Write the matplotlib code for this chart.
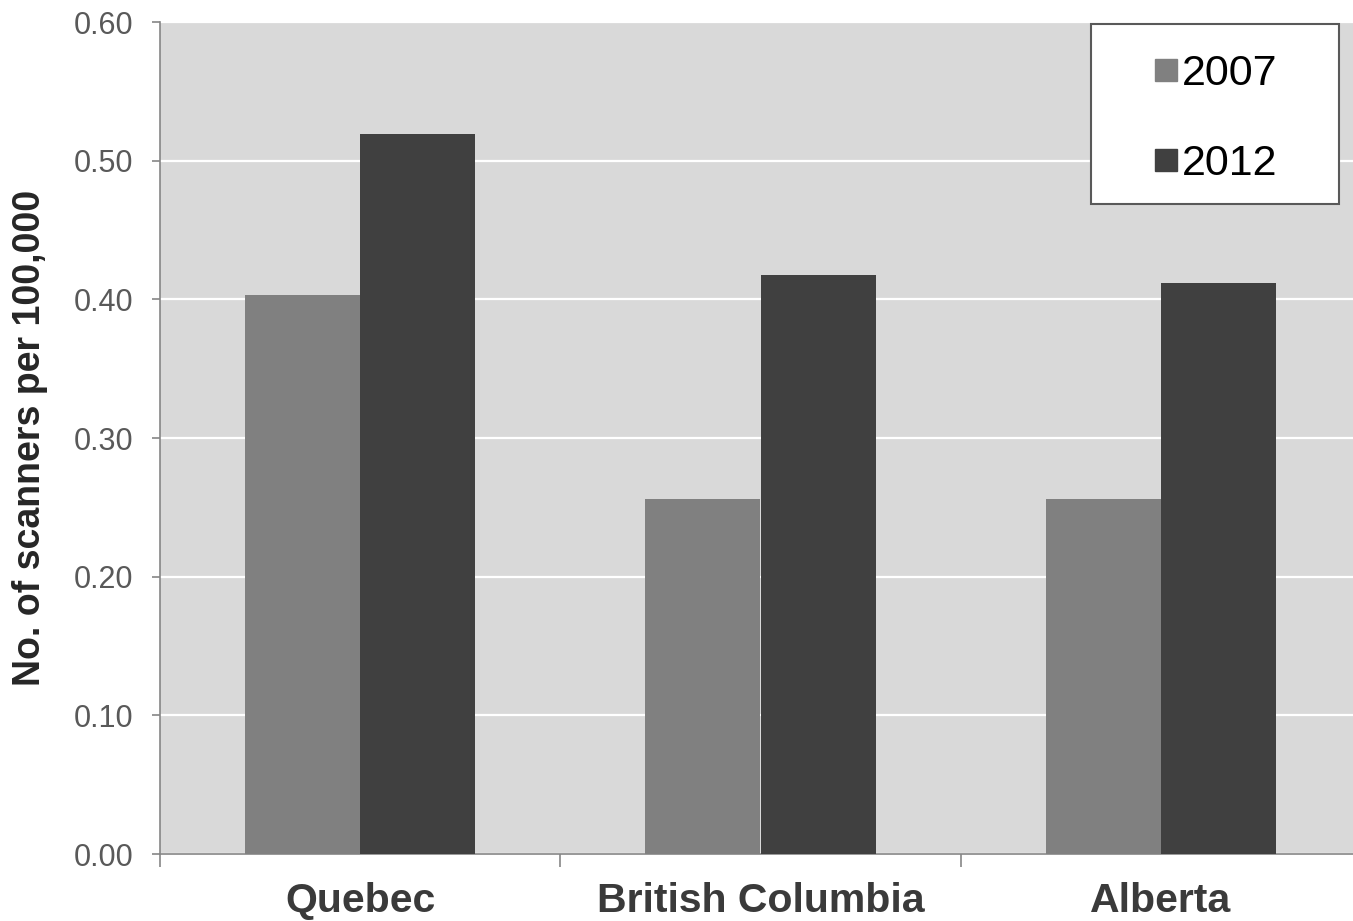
import matplotlib.pyplot as plt
from matplotlib.lines import Line2D
from matplotlib.patches import Rectangle
import numpy as np

plt.rcParams['font.family'] = ['Liberation Sans', 'DejaVu Sans']

provinces = ['Quebec', 'British Columbia', 'Alberta']
years = ['2007', '2012']
rates_2007 = [0.403, 0.256, 0.256]
rates_2012 = [0.519, 0.4175, 0.412]
yticks = [0.0, 0.1, 0.2, 0.3, 0.4, 0.5, 0.6]

colors = ['#808080', '#404040']
W, H = 1353, 921

fig = plt.figure(figsize=(W / 100, H / 100), dpi=100)
ax = fig.add_axes([160 / W, 67 / H, 1201 / W, 832 / H])
ax.set_facecolor('#d9d9d9')

x = np.arange(len(provinces))
width = 0.2875
ax.bar(x - width / 2, rates_2007, width, color=colors[0], zorder=3)
ax.bar(x + width / 2, rates_2012, width, color=colors[1], zorder=3)

ax.set_xlim(-0.5, len(provinces) - 0.5)
ax.set_ylim(0, 0.6)

# horizontal white gridlines
ax.set_yticks(yticks)
ax.set_yticklabels([f'{v:.2f}' for v in yticks])
ax.yaxis.grid(True, color='white', linewidth=1.6, zorder=1)
ax.set_axisbelow(True)

# category boundaries get tick marks, centres get labels
ax.set_xticks(np.arange(-0.5, len(provinces), 1.0))
ax.set_xticklabels([])
ax.set_xticks(x, minor=True)
ax.set_xticklabels(provinces, minor=True, fontsize=29.5, fontweight='bold', color='#3a3a3a')
ax.tick_params(axis='x', which='major', direction='out', length=9, width=1.2, color='#868686')
ax.tick_params(axis='x', which='minor', length=0, pad=20)
ax.tick_params(axis='y', direction='out', length=6, width=1.2, color='#868686',
               labelsize=22, labelcolor='#595959', pad=13)

for s in ['top', 'right']:
    ax.spines[s].set_visible(False)
for s in ['left', 'bottom']:
    ax.spines[s].set_color('#868686')
    ax.spines[s].set_linewidth(1.2)

ax.set_ylabel('No. of scanners per 100,000', fontsize=27, fontweight='bold', color='#262626')
ax.yaxis.set_label_coords(-0.093, 0.5)

# legend box
fig.patches.append(Rectangle((1091 / W, 1 - 204 / H), 248 / W, 180 / H,
                             transform=fig.transFigure, facecolor='white',
                             edgecolor='#595959', linewidth=1.5, zorder=5))
handles = [Line2D([], [], marker='s', linestyle='', color=c, markersize=16) for c in colors]
leg = fig.legend(handles, years, loc='upper left', bbox_to_anchor=(1155 / W, 1 - 54 / H),
                 frameon=False, fontsize=31, handlelength=0.5, handletextpad=0.13,
                 borderpad=0, borderaxespad=0, labelspacing=1.17)
leg.set_zorder(6)

fig.savefig('out.png', dpi=100)
